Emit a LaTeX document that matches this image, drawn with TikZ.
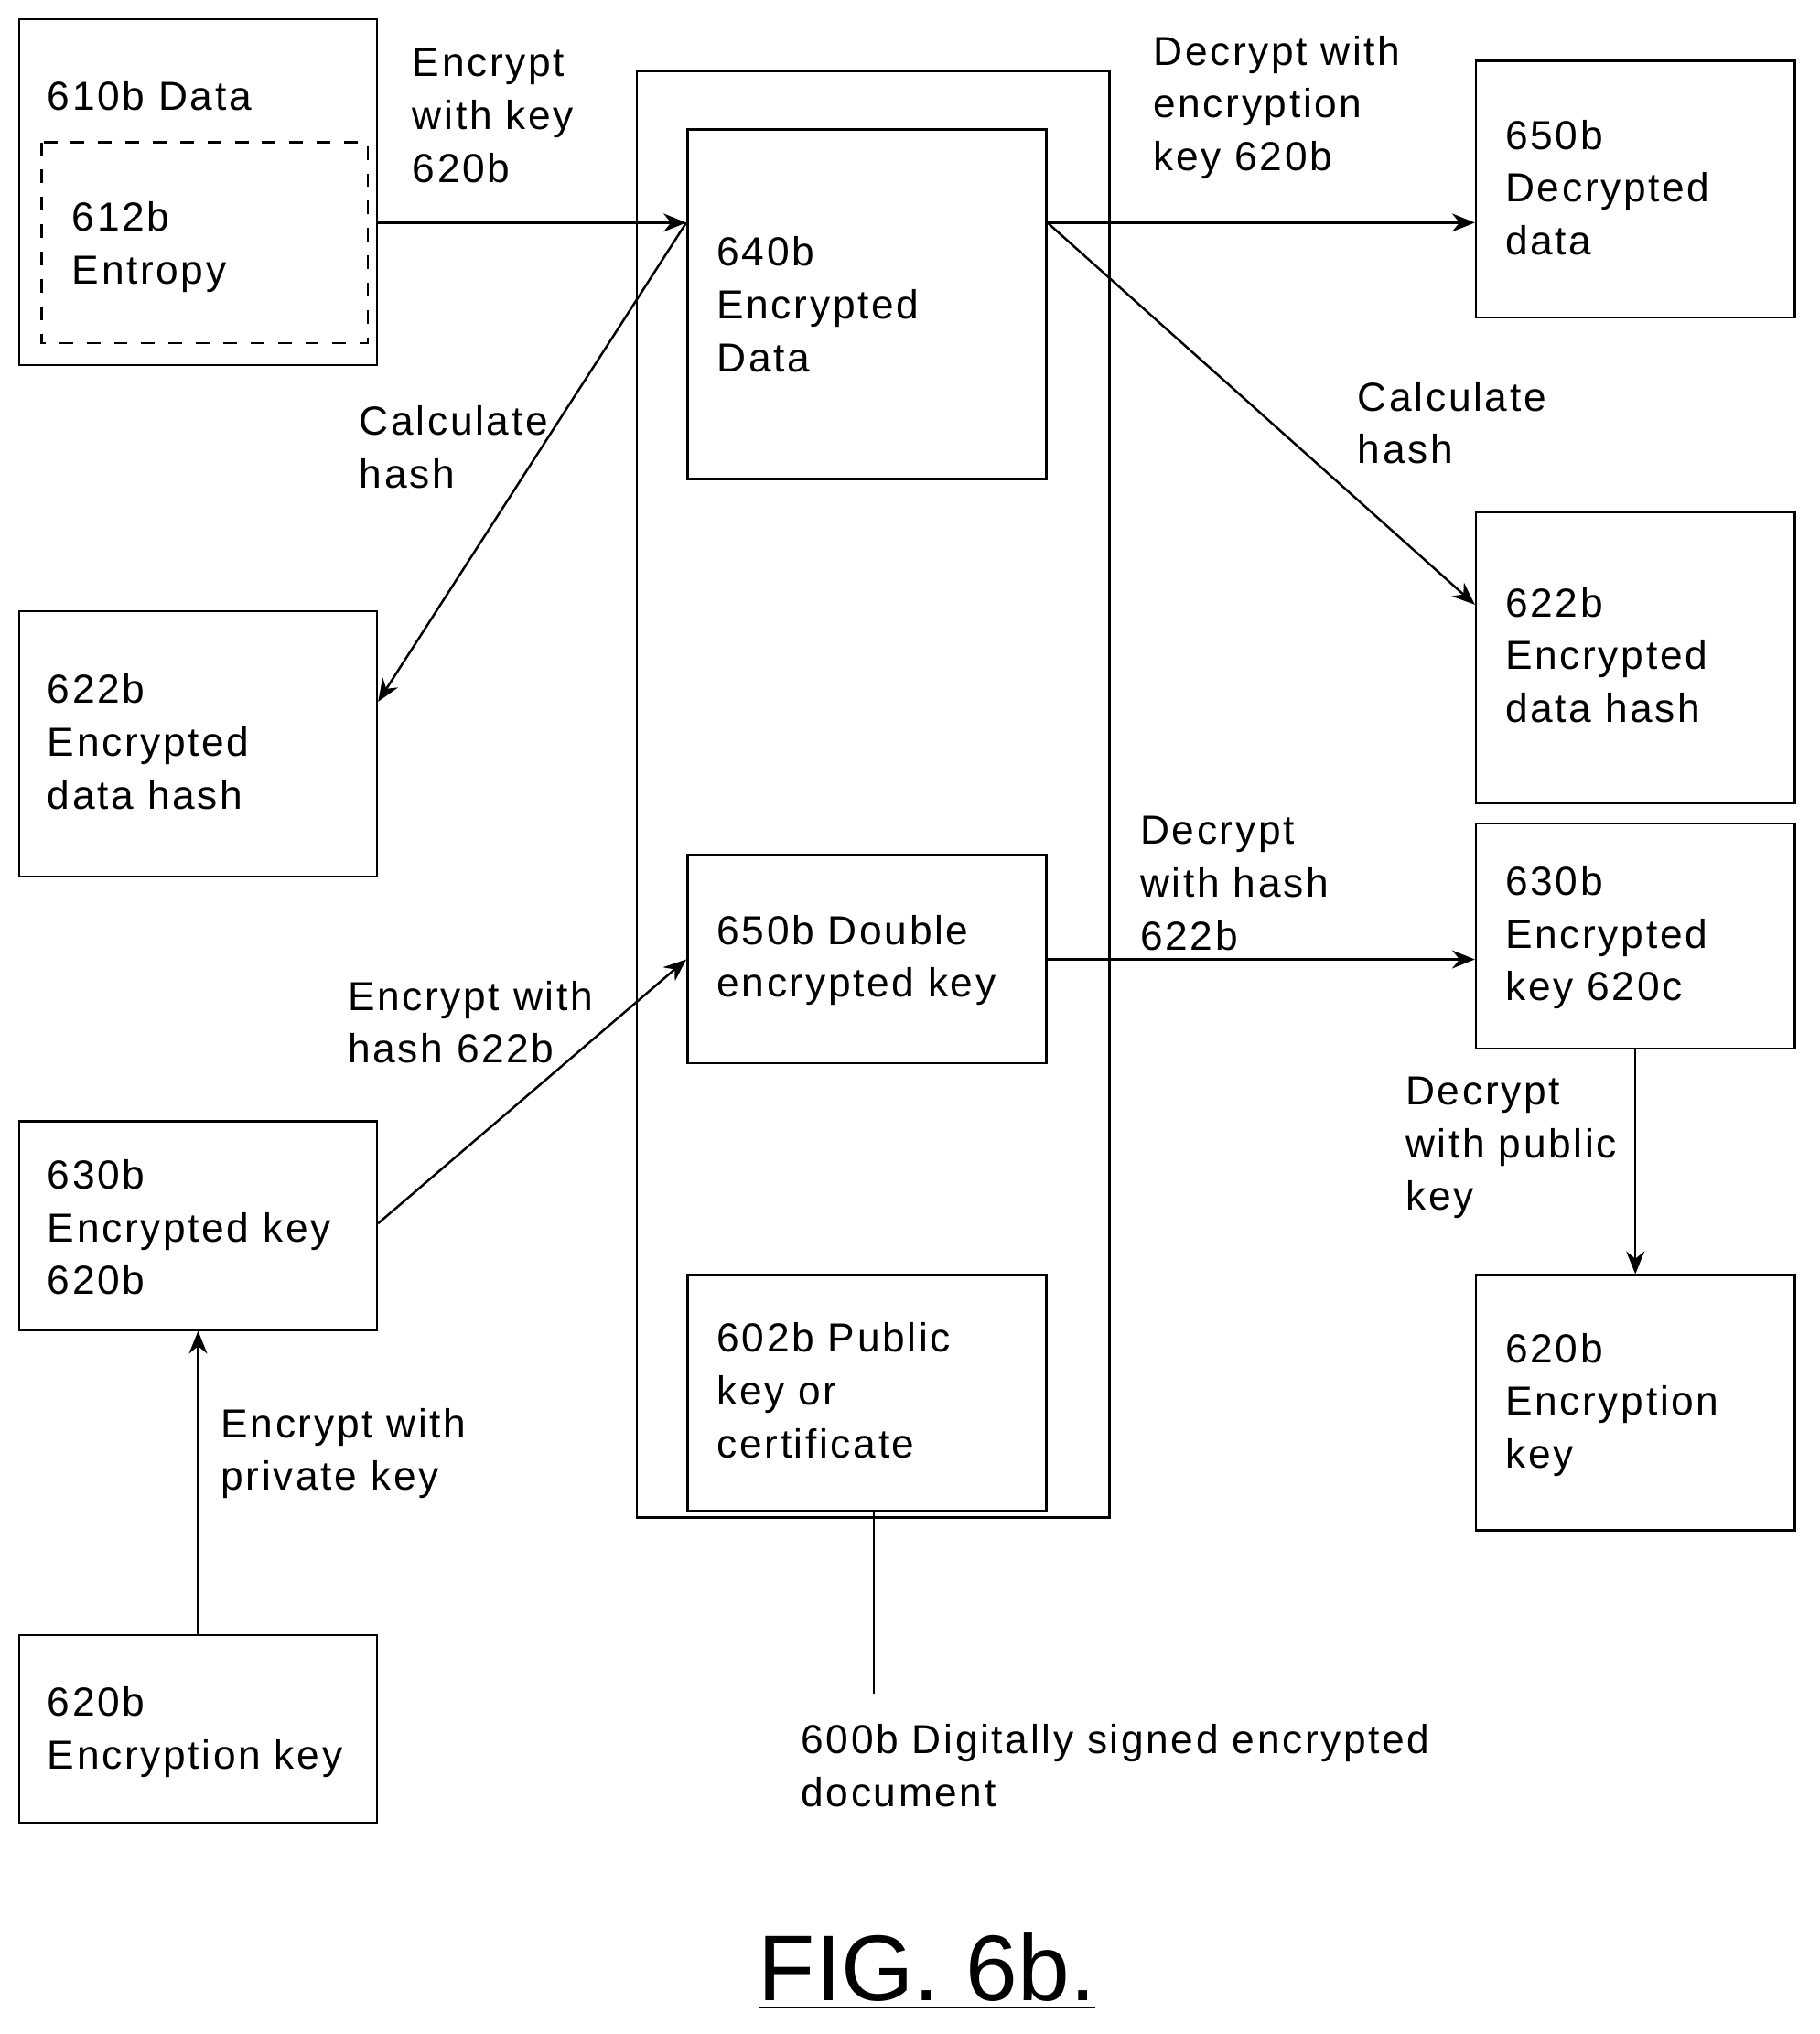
\documentclass[tikz,border=0pt]{standalone}
\usepackage{fontspec}
\setmainfont{Liberation Sans}
\newfontfamily\spaced[LetterSpace=6]{Liberation Sans}
\usetikzlibrary{arrows.meta}
\begin{document}
\begin{tikzpicture}[x=0.01cm,y=-0.01cm,
  box/.style={draw,line width=0.5pt},
  lab/.style={anchor=north west,inner sep=0pt,align=left,font=\spaced\fontsize{8.9pt}{11.6pt}\selectfont},
  arr/.style={-{Stealth[length=5pt,width=4pt]},line width=0.5pt}]
\useasboundingbox (0,0) rectangle (1405,1571);
% boxes
\draw[box] (15,15) rectangle (291,282);
\draw[box,dashed] (32,110) rectangle (284,265);
\draw[box] (492,55) rectangle (857,1172);
\node[box,inner sep=0,minimum width=2.77cm,minimum height=2.70cm] (enc) at (669.5,235) {};
\node[box,inner sep=0,minimum width=2.77cm,minimum height=1.61cm] (dbl) at (669.5,740.5) {};
\node[box,inner sep=0,minimum width=2.77cm,minimum height=1.82cm] (pub) at (669.5,1076) {};
\node[box,inner sep=0,minimum width=2.46cm,minimum height=1.98cm] (dec) at (1263,146) {};
\node[box,inner sep=0,minimum width=2.46cm,minimum height=2.24cm] (hr) at (1263,508) {};
\node[box,inner sep=0,minimum width=2.46cm,minimum height=1.74cm] (kr) at (1263,723) {};
\node[box,inner sep=0,minimum width=2.46cm,minimum height=1.97cm] (er) at (1263,1083.5) {};
\node[box,inner sep=0,minimum width=2.76cm,minimum height=2.67cm] (data) at (153,148.5) {};
\node[box,inner sep=0,minimum width=2.76cm,minimum height=2.05cm] (hl) at (153,574.5) {};
\node[box,inner sep=0,minimum width=2.76cm,minimum height=1.61cm] (kl) at (153,946.5) {};
\node[box,inner sep=0,minimum width=2.76cm,minimum height=1.45cm] (el) at (153,1335.5) {};
\coordinate (docend) at (675,1308);
% connectors
\draw[arr] (data.east |- 0,172) -- (enc.west |- 0,172);
\draw[arr] (enc.west |- 0,172) -- (hl.east |- 0,542);
\draw[arr] (enc.east |- 0,172) -- (dec.west |- 0,172);
\draw[arr] (enc.east |- 0,172) -- (hr.west |- 0,467);
\draw[arr] (kl.east |- 0,945) -- (dbl.west |- 0,741);
\draw[arr] (dbl.east |- 0,741) -- (kr.west |- 0,741);
\draw[arr] (kr.south) -- (er.north);
\draw[arr] (el.north) -- (kl.south);
\draw[line width=0.5pt] (pub.south -| docend) -- (docend);
% texts
\node[lab] at (36,62) {610b Data};
\node[lab] at (55,155) {612b\\Entropy};
\node[lab] at (318,37) {Encrypt\\with key\\620b};
\node[lab] at (277,313) {Calculate\\hash};
\node[lab] at (553,182) {640b\\Encrypted\\Data};
\node[lab] at (890,27) {Decrypt with\\encryption\\key 620b};
\node[lab] at (1162,92) {650b\\Decrypted\\data};
\node[lab] at (1048,294) {Calculate\\hash};
\node[lab] at (1162,453) {622b\\Encrypted\\data hash};
\node[lab] at (36,520) {622b\\Encrypted\\data hash};
\node[lab] at (880,630) {Decrypt\\with hash\\622b};
\node[lab] at (1162,668) {630b\\Encrypted\\key 620c};
\node[lab] at (553,706) {650b Double\\encrypted key};
\node[lab] at (268,757) {Encrypt with\\hash 622b};
\node[lab] at (1085,831) {Decrypt\\with public\\key};
\node[lab] at (36,895) {630b\\Encrypted key\\620b};
\node[lab] at (1162,1029) {620b\\Encryption\\key};
\node[lab] at (553,1021) {602b Public\\key or\\certificate};
\node[lab] at (170,1087) {Encrypt with\\private key};
\node[lab] at (36,1302) {620b\\Encryption key};
\node[lab] at (618,1331) {600b Digitally signed encrypted\\document};
\node[anchor=north,inner sep=0pt,font=\fontsize{20.5pt}{26pt}\selectfont] at (716,1492) {\underline{FIG. 6b.}};
\end{tikzpicture}
\end{document}
